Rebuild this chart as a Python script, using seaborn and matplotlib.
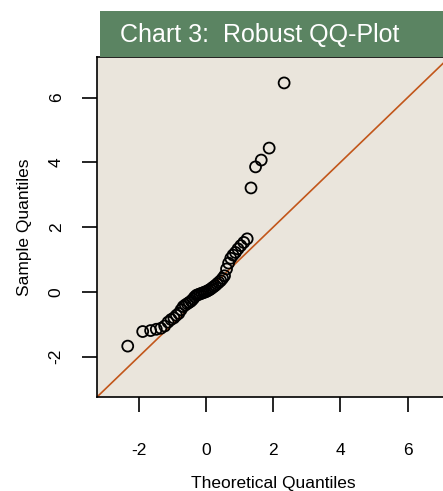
import numpy as np
import pandas as pd
import matplotlib
matplotlib.use("Agg")
import matplotlib.pyplot as plt
import seaborn as sns
from matplotlib.patches import Rectangle

# ============================================
# Data (n = 50)
# ============================================
theoretical = [-2.326, -1.881, -1.645, -1.476, -1.341, -1.227, -1.126, -1.036, -0.954, -0.878,
               -0.806, -0.739, -0.674, -0.613, -0.553, -0.496, -0.440, -0.385, -0.332, -0.279,
               -0.228, -0.176, -0.126, -0.075, -0.025, 0.025, 0.075, 0.126, 0.176, 0.228,
               0.279, 0.332, 0.385, 0.440, 0.496, 0.553, 0.613, 0.674, 0.739, 0.806,
               0.878, 0.954, 1.036, 1.126, 1.227, 1.341, 1.476, 1.645, 1.881, 2.326]
sample = [-1.67, -1.22, -1.19, -1.15, -1.12, -1.05, -0.93, -0.85, -0.80, -0.72,
          -0.66, -0.55, -0.45, -0.40, -0.36, -0.32, -0.28, -0.22, -0.15, -0.10,
          -0.08, -0.06, -0.04, -0.02, 0.00, 0.02, 0.05, 0.08, 0.12, 0.16,
          0.20, 0.25, 0.30, 0.35, 0.42, 0.50, 0.71, 0.89, 1.04, 1.14,
          1.22, 1.33, 1.43, 1.53, 1.64, 3.21, 3.86, 4.07, 4.44, 6.45]
x_ticks = [-2, 0, 2, 4, 6]
y_ticks = [-2, 0, 2, 4, 6]
title = "Chart 3:  Robust QQ-Plot"

df = pd.DataFrame({"theoretical": theoretical, "sample": sample})

# ============================================
# Style
# ============================================
sns.set_style("white")
plt.rcParams['font.family'] = ['Liberation Sans', 'DejaVu Sans']
plt.rcParams['text.color'] = 'black'
plt.rcParams['axes.labelcolor'] = 'black'
plt.rcParams['xtick.color'] = 'black'
plt.rcParams['ytick.color'] = 'black'

panel_bg = "#EAE5DC"
bar_green = "#5B8462"
line_col = "#C2561A"

W, H = 443, 491
fig = plt.figure(figsize=(W / 100, H / 100), dpi=100)
ax = fig.add_axes([97 / W, (H - 397) / H, (450 - 97) / W, (397 - 57) / H])
ax.set_facecolor(panel_bg)

# reference line y = x
ax.axline((0, 0), slope=1, color=line_col, lw=1.2, zorder=1)

sns.scatterplot(data=df, x="theoretical", y="sample", ax=ax, marker="o", s=62,
                facecolor="none", edgecolor="black", linewidth=1.3, zorder=2)

ax.set_xlim(-3.24, 7.26)
ax.set_ylim(-3.24, 7.25)
ax.set_xticks(x_ticks)
ax.set_yticks(y_ticks)
ax.set_xticklabels([str(t) for t in x_ticks])
ax.set_yticklabels([str(t) for t in y_ticks], rotation=90, va="center")
ax.tick_params(axis="both", which="major", bottom=True, left=True, direction="out",
               length=11, width=1.2, color="black", labelcolor="black",
               labelsize=12.5)
ax.tick_params(axis="x", pad=22)
ax.tick_params(axis="y", pad=13)
for sp in ax.spines.values():
    sp.set_color("black")
    sp.set_linewidth(1.2)

ax.set_xlabel("Theoretical Quantiles", fontsize=12.5, labelpad=13)
ax.set_ylabel("Sample Quantiles", fontsize=12.5, labelpad=12)

# green title bar
fig.patches.append(Rectangle((100 / W, (H - 57) / H), (W - 100) / W, 46 / H,
                             transform=fig.transFigure, facecolor=bar_green,
                             edgecolor="none", zorder=5))
fig.text(120 / W, (H - 35) / H, title, color="white", fontsize=18,
         va="center", ha="left", zorder=6)

fig.savefig("out.png", dpi=100)
